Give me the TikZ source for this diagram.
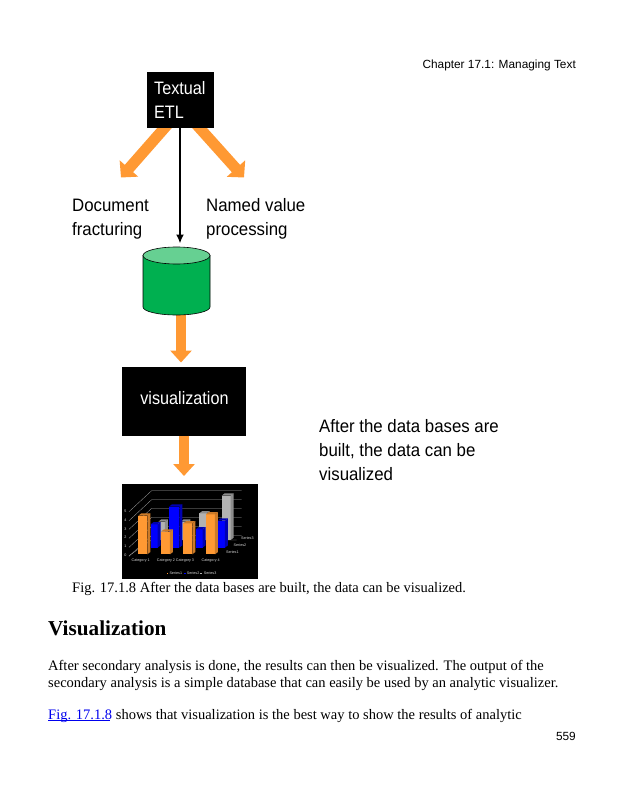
\documentclass[tikz,border=0pt]{standalone}
\usepackage{fontspec}
\setmainfont{Liberation Serif}
\setsansfont{Liberation Sans}
\usetikzlibrary{arrows.meta}
\definecolor{barorange}{RGB}{255,153,51}
\definecolor{dborange}{RGB}{204,122,40}
\definecolor{dbgreen}{RGB}{0,176,80}
\definecolor{dblid}{RGB}{102,208,146}
\definecolor{linkblue}{RGB}{0,0,238}
\tikzset{
  blackbox/.style={fill=black,inner sep=0pt},
  boxtext/.style={anchor=base west,inner sep=0pt,text=white,align=left,xscale=.9,transform shape,font=\sffamily\fontsize{18}{24}\selectfont},
  slidetext/.style={anchor=base west,align=left,inner sep=0pt,xscale=.935,transform shape,font=\sffamily\fontsize{18}{23.7}\selectfont},
  bookline/.style={anchor=base west,inner sep=0pt,font=\fontsize{14.5}{16}\selectfont},
  pagetext/.style={anchor=base east,inner sep=0pt,font=\sffamily\fontsize{11.85}{14}\selectfont},
  blockarrow/.style={draw=barorange,line width=10pt,-{Triangle[length=12pt,width=21pt,color=barorange]}},
  diagarrow/.style={draw=barorange,line width=11pt,-{Triangle[length=12pt,width=24pt,color=barorange]}},
  tinytext/.style={inner sep=0pt,text=white!85!black,font=\sffamily\fontsize{3.7}{4}\selectfont},
}
\begin{document}
\begin{tikzpicture}[x=1pt,y=-1pt]
\useasboundingbox (0,0) rectangle (617,800);
\fill[white] (0,0) rectangle (617,800);
\node[pagetext] (header) at (576,69) {Chapter 17.1: Managing Text};
% free ends of the arrows
\coordinate (leftend) at (121,177.5);
\coordinate (rightend) at (244,177.5);
\coordinate (etlend) at (180,243.5);
\coordinate (dbend) at (181,362.5);
\coordinate (dbstart) at (181,312);
\coordinate (visend) at (184,476);
\coordinate (leftstart) at (168,124);
\coordinate (rightstart) at (196,124);
\draw[diagarrow] (leftstart) -- (leftend);
\draw[diagarrow] (rightstart) -- (rightend);
\node[blackbox,minimum width=67.5pt,minimum height=56.5pt] (etl) at (180.5,100) {};
\node[boxtext] (etltext) at (154,118) {Textual\\ETL};
\node[slidetext] (docfrac) at (72,235) {Document\\fracturing};
\node[slidetext] (namedval) at (206,235) {Named value\\processing};
\draw[blockarrow] (dbstart) -- (dbend);
% database
\draw[fill=dbgreen,line width=.6pt] (143,255.5) -- (143,307) arc[start angle=180,end angle=360,x radius=33.5pt,y radius=8pt] -- (210,255.5) -- cycle;
\draw[fill=dblid,line width=.6pt] (176.5,255.5) ellipse[x radius=33.5pt,y radius=8.5pt];
\draw[line width=1.8pt,-{Latex[length=9pt,width=8pt]}] (etlend |- etl.south) -- (etlend);
\node[blackbox,minimum width=124.5pt,minimum height=69pt] (vis) at (184,401) {};
\node[boxtext,anchor=base] (vistext) at (184.5,404) {visualization};
\draw[blockarrow] (vis.south) -- (visend);
\node[slidetext] (aftertext) at (319,480) {After the data bases are\\built, the data can be\\visualized};
% chart, in the units of a 3x crop
\begin{scope}[x=.3333pt,y=-.3333pt,shift={(110pt,-475pt)}]
\fill[black] (36,27) rectangle (445,312);
\foreach \yb in {47,74,100,127,154,181}
  \draw[white!65!black,line width=.3pt] (57,\yb+63) -- (125,\yb) -- (395,\yb);
\draw[white!65!black,line width=.3pt] (57,242) -- (125,195) -- (380,195);
\foreach \num/\yn in {0/242,1/215,2/188,3/162,4/135,5/108}
  \node[tinytext] (axis\num) at (46,\yn) {\num};
% gray, then blue, then orange bars
\foreach \xa/\xb/\yt/\yf/\colfront/\colside in {
  145/165/140/195/white!70!black/white!55!black,
  212/232/140/195/white!70!black/white!55!black,
  268/290/115/195/white!70!black/white!55!black,
  335/362/62/195/white!70!black/white!55!black,
  122/143/148/218/blue/blue!70!black,
  177/208/95/218/blue/blue!70!black,
  257/278/163/218/blue/blue!70!black,
  323/345/137/218/blue/blue!70!black,
  85/112/122/238/barorange/dborange,
  153/180/170/238/barorange/dborange,
  220/247/145/238/barorange/dborange,
  288/315/118/238/barorange/dborange}{
  \fill[\colfront] (\xa,\yt) rectangle (\xb,\yf);
  \fill[\colside] (\xb,\yt) -- (\xb+9,\yt-7) -- (\xb+9,\yf-7) -- (\xb,\yf) -- cycle;
  \fill[\colside] (\xa,\yt) -- (\xa+9,\yt-7) -- (\xb+9,\yt-7) -- (\xb,\yt) -- cycle;
}
\foreach \cat/\xc in {1/92,2/168,3/225,4/302}
  \node[tinytext] (cat\cat) at (\xc,258) {Category \cat};
\node[tinytext] (ser3) at (412,190) {Series3};
\node[tinytext] (ser2) at (390,212) {Series2};
\node[tinytext] (ser1) at (367,232) {Series1};
\fill[barorange] (170,293) rectangle (175,298);
\node[tinytext,anchor=west] (leg1) at (178,295) {Series1};
\fill[blue] (222,293) rectangle (227,298);
\node[tinytext,anchor=west] (leg2) at (230,295) {Series2};
\fill[white!70!black] (270,293) rectangle (275,298);
\node[tinytext,anchor=west] (leg3) at (281,295) {Series3};
\end{scope}
\node[bookline] (caption) at (72,592) {Fig. 17.1.8 After the data bases are built, the data can be visualized.};
\node[anchor=base west,inner sep=0pt,font=\bfseries\fontsize{21.2}{24}\selectfont] (heading) at (48,635) {Visualization};
\node[bookline] (para1) at (48,670) {After secondary analysis is done, the results can then be visualized. The output of the};
\node[bookline] (para2) at (48,687) {secondary analysis is a simple database that can easily be used by an analytic visualizer.};
\node[bookline] (para3) at (48,719) {\textcolor{linkblue}{\rlap{\rule[-1.5pt]{62pt}{.6pt}}Fig. 17.1.8} shows that visualization is the best way to show the results of analytic};
\node[pagetext] (pagenum) at (576,740) {559};
\end{tikzpicture}
\end{document}
